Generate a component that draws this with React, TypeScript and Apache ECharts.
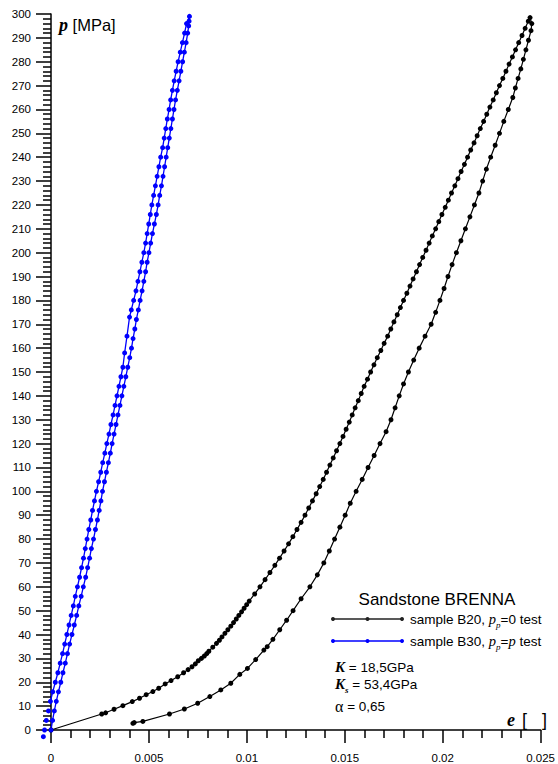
import React, { useEffect, useRef } from "react";
import * as echarts from "echarts";

// Volumetric strain e [-] vs pressure p [MPa]
const b20Loading: [number, number][] = [
  [0, 0], [0.00259, 6.7], [0.00279, 7.2], [0.00322, 8.7], [0.00367, 10.2], [0.00415, 11.9],
  [0.00452, 13.3], [0.00486, 14.8], [0.0052, 16.1], [0.0055, 17.5], [0.00583, 19.3],
  [0.00613, 20.7], [0.00647, 22.3], [0.00677, 24], [0.007, 25.3], [0.0072, 26.5],
  [0.00737, 27.7], [0.00752, 29], [0.00768, 30], [0.00783, 31], [0.00795, 32], [0.00806, 33],
  [0.00826, 34.7], [0.00845, 36.3], [0.0086, 37.6], [0.00873, 39], [0.00888, 40.5],
  [0.00903, 42], [0.00918, 43.5], [0.00932, 45], [0.00946, 46.5], [0.00959, 48],
  [0.00973, 49.5], [0.00986, 51], [0.00999, 52.5], [0.01012, 54], [0.0104, 57],
  [0.01067, 60], [0.01093, 63], [0.01118, 66], [0.01143, 69], [0.01167, 72], [0.0119, 75],
  [0.01213, 78], [0.01235, 81], [0.01256, 84], [0.01277, 87], [0.01297, 90], [0.01316, 93],
  [0.01335, 96], [0.01354, 99], [0.01372, 102], [0.0139, 105], [0.01407, 108],
  [0.01424, 111], [0.01441, 114], [0.01458, 117], [0.01475, 120], [0.01491, 123],
  [0.01507, 126], [0.01523, 129], [0.01538, 132], [0.01553, 135], [0.01569, 138],
  [0.01584, 141], [0.01599, 144], [0.01616, 147], [0.01632, 150], [0.01649, 153],
  [0.01666, 156], [0.01684, 159], [0.01701, 162], [0.01719, 165], [0.01735, 168],
  [0.01751, 171], [0.01768, 174], [0.01784, 177], [0.018, 180], [0.01817, 183],
  [0.01833, 186], [0.01849, 189], [0.01866, 192], [0.01882, 195], [0.01898, 198],
  [0.01915, 201], [0.01931, 204], [0.01947, 207], [0.01964, 210], [0.0198, 213],
  [0.01996, 216], [0.02013, 219], [0.02029, 222], [0.02045, 225], [0.02062, 228],
  [0.02078, 231], [0.02094, 234], [0.02111, 237], [0.02127, 240], [0.02143, 243],
  [0.0216, 246], [0.02176, 249], [0.02192, 252], [0.02209, 255], [0.02225, 258],
  [0.02241, 261], [0.02258, 264], [0.02274, 267], [0.0229, 270], [0.02307, 273],
  [0.02323, 276], [0.02339, 279], [0.02356, 282], [0.02372, 285], [0.02388, 288],
  [0.02405, 291], [0.02421, 294], [0.02437, 297], [0.02446, 298.5],
];

const b20Unloading: [number, number][] = [
  [0.02455, 296], [0.02451, 293], [0.02438, 289], [0.02425, 285], [0.02412, 281],
  [0.02399, 277], [0.02385, 273], [0.02371, 269], [0.02358, 265], [0.02335, 260],
  [0.02312, 255], [0.0229, 250], [0.02268, 245], [0.02245, 240], [0.02223, 235],
  [0.02204, 230], [0.02185, 225], [0.02162, 220], [0.02139, 215], [0.02116, 210],
  [0.02093, 205], [0.0207, 200], [0.02048, 195], [0.02027, 190], [0.02007, 185],
  [0.01986, 180], [0.01964, 175], [0.01941, 170], [0.0191, 165], [0.0188, 160],
  [0.01852, 155], [0.01825, 150], [0.018, 145], [0.01778, 140], [0.01757, 135],
  [0.01736, 130], [0.01711, 125], [0.0168, 120], [0.0165, 115], [0.01619, 110],
  [0.01589, 105], [0.01558, 100], [0.01528, 95], [0.01502, 90], [0.01475, 85],
  [0.01448, 80], [0.01421, 75], [0.01393, 70], [0.0136, 65], [0.01322, 60],
  [0.01277, 55], [0.01236, 50], [0.01203, 46], [0.01168, 42], [0.01133, 38],
  [0.01104, 34.9], [0.01087, 33.5], [0.01045, 29.5], [0.01003, 25.8], [0.00964, 23.3],
  [0.00918, 19.6], [0.00867, 16.8], [0.00811, 14], [0.00749, 11.2], [0.00681, 8.8],
  [0.00605, 6.7], [0.00469, 3.6], [0.00425, 3.1], [0.00418, 2.8],
];

const b30Loading: [number, number][] = [
  [0, 0], [0.00008, 4], [0.00017, 8], [0.00027, 12], [0.00038, 16], [0.0005, 20],
  [0.00061, 24], [0.00073, 28], [0.00084, 32], [0.00095, 36], [0.00107, 40],
  [0.00119, 44], [0.00131, 48], [0.00142, 52], [0.00154, 56], [0.00165, 60],
  [0.00177, 64], [0.00187, 68], [0.00197, 72], [0.00206, 76], [0.00217, 80],
  [0.00227, 84], [0.00237, 88], [0.00246, 92], [0.00255, 96], [0.00263, 100],
  [0.00273, 104], [0.00283, 108], [0.00293, 112], [0.00303, 116], [0.00312, 120],
  [0.00322, 124], [0.00332, 128], [0.00342, 132], [0.00352, 136], [0.00362, 140],
  [0.00372, 144], [0.00382, 148], [0.00392, 152], [0.00402, 156], [0.00411, 160],
  [0.00419, 164], [0.00428, 168], [0.00436, 172], [0.00446, 176], [0.00455, 180],
  [0.00465, 184], [0.00474, 188], [0.00483, 192], [0.00491, 196], [0.005, 200],
  [0.00509, 204], [0.00518, 208], [0.00528, 212], [0.00538, 216], [0.00547, 220],
  [0.00555, 224], [0.00564, 228], [0.00572, 232], [0.0058, 236], [0.00588, 240],
  [0.00596, 244], [0.00604, 248], [0.00612, 252], [0.0062, 256], [0.00628, 260],
  [0.00636, 264], [0.00645, 268], [0.00654, 272], [0.00663, 276], [0.00672, 280],
  [0.00681, 284], [0.0069, 288], [0.00698, 292], [0.00703, 295], [0.00705, 297],
  [0.00707, 299],
];

const b30Unloading: [number, number][] = [
  [0.00692, 296], [0.00682, 292], [0.00671, 288], [0.0066, 284], [0.00649, 280],
  [0.00639, 276], [0.00629, 272], [0.0062, 268], [0.00611, 264], [0.00603, 260],
  [0.00594, 256], [0.00586, 252], [0.00578, 248], [0.0057, 244], [0.0056, 240],
  [0.00551, 236], [0.00542, 232], [0.00533, 228], [0.00524, 224], [0.00515, 220],
  [0.00507, 216], [0.00499, 212], [0.00491, 208], [0.00483, 204], [0.00474, 200],
  [0.00464, 196], [0.00454, 192], [0.00444, 188], [0.00434, 184], [0.00422, 180],
  [0.0041, 176], [0.00401, 173], [0.00388, 165], [0.00376, 158], [0.00367, 152],
  [0.00357, 148], [0.00347, 144], [0.00337, 140], [0.00327, 136], [0.00317, 132],
  [0.00306, 128], [0.00296, 124], [0.00285, 120], [0.00275, 116], [0.00264, 112],
  [0.00254, 108], [0.00243, 104], [0.00232, 100], [0.00222, 96], [0.00212, 92],
  [0.00203, 88], [0.00193, 84], [0.00184, 80], [0.00175, 76], [0.00166, 72],
  [0.00156, 68], [0.00146, 64], [0.00135, 60], [0.00124, 56], [0.00114, 52],
  [0.00103, 48], [0.00092, 44], [0.00081, 40], [0.0007, 36], [0.00059, 32],
  [0.00047, 28], [0.00035, 24], [0.00022, 20], [0.00009, 16], [-0.00003, 12],
  [-0.00013, 8], [-0.00024, 4], [-0.00033, 0], [-0.00039, -2.8],
];

const xRange = [0, 0.025];
const xStep = 0.005;
const yRange = [0, 300];
const yStep = 10;

const legendTitle = "Sandstone BRENNA";
const legendB20 = "sample B20, {i|p}{s|p}=0 test";
const legendB30 = "sample B30, {i|p}{s|p}={i|p} test";
const noteK = "{K|K} = 18,5GPa";
const noteKs = "{K|K}{s|s} = 53,4GPa";
const noteAlpha = "{a|α} = 0,65";

const SANS = "'Liberation Sans', Arial, Helvetica, sans-serif";
const SERIF = "'Liberation Serif', 'Times New Roman', serif";

export default function App() {
  const ref = useRef<HTMLDivElement>(null);

  useEffect(() => {
    if (!ref.current) return;
    const chart = echarts.init(ref.current, null, { renderer: "svg" });
    const axisLine = { color: "#000", width: 1.5 };
    const subRich = {
      i: { fontFamily: SERIF, fontStyle: "italic", fontSize: 14.5, lineHeight: 20, verticalAlign: "middle" },
      s: { fontFamily: SERIF, fontStyle: "italic", fontSize: 9, lineHeight: 20, verticalAlign: "bottom" },
    };
    const legendRow = (y: number, color: string, text: string) => [
      { type: "line", shape: { x1: 333, y1: y, x2: 402, y2: y }, style: { stroke: color, lineWidth: 1.5 } },
      { type: "circle", shape: { cx: 333, cy: y, r: 2 }, style: { fill: color } },
      { type: "circle", shape: { cx: 367.5, cy: y, r: 2 }, style: { fill: color } },
      { type: "circle", shape: { cx: 402, cy: y, r: 2 }, style: { fill: color } },
      {
        type: "text", x: 410, y,
        style: {
          text, fontFamily: SANS, fontSize: 13.5, lineHeight: 20, fill: "#000",
          verticalAlign: "middle", align: "left", rich: subRich,
        },
      },
    ];

    chart.setOption({
      animation: false,
      backgroundColor: "#fff",
      grid: { left: 51, right: 15, top: 14, bottom: 34, containLabel: false },
      xAxis: {
        type: "value",
        min: xRange[0], max: xRange[1], interval: xStep,
        axisLine: { show: true, onZero: false, lineStyle: axisLine },
        axisTick: { show: true, inside: false, length: 13, lineStyle: axisLine },
        minorTick: { show: true, splitNumber: 5, length: 8, lineStyle: axisLine },
        axisLabel: {
          margin: 22, fontSize: 11.5, color: "#000", fontFamily: SANS,
          formatter: (v: number) => String(Number(v.toFixed(3))),
        },
        splitLine: { show: false },
        minorSplitLine: { show: false },
      },
      yAxis: {
        type: "value",
        min: yRange[0], max: yRange[1], interval: yStep,
        axisLine: { show: true, onZero: false, lineStyle: axisLine },
        axisTick: { show: true, inside: false, length: 15, lineStyle: axisLine },
        minorTick: { show: true, splitNumber: 5, length: 8, lineStyle: axisLine },
        axisLabel: { margin: 20, fontSize: 11.5, color: "#000", fontFamily: SANS },
        splitLine: { show: false },
        minorSplitLine: { show: false },
      },
      series: [
        {
          name: "sample B20, pp=0 test",
          type: "line",
          data: [...b20Loading, ...b20Unloading],
          symbol: "circle", symbolSize: 5, showSymbol: true, showAllSymbol: true,
          lineStyle: { color: "#000", width: 1.2 },
          itemStyle: { color: "#000" },
          clip: false,
        },
        {
          name: "sample B30, pp=p test",
          type: "line",
          data: [...b30Loading, ...b30Unloading],
          symbol: "circle", symbolSize: 5, showSymbol: true, showAllSymbol: true,
          lineStyle: { color: "#0000ff", width: 1.3 },
          itemStyle: { color: "#0000ff" },
          clip: false,
        },
      ],
      graphic: [
        {
          type: "text", x: 59, y: 24.5,
          style: {
            text: "{p|p} [MPa]", fontFamily: SANS, fontSize: 16.5, fill: "#000", verticalAlign: "middle",
            rich: { p: { fontFamily: SERIF, fontStyle: "italic", fontWeight: "bold", fontSize: 18 } },
          },
        },
        {
          type: "text", x: 507, y: 720,
          style: { text: "e", fontFamily: SERIF, fontStyle: "italic", fontWeight: "bold", fontSize: 18, fill: "#000", verticalAlign: "middle" },
        },
        {
          type: "text", x: 522, y: 720,
          style: { text: "[   ]", fontFamily: SANS, fontSize: 18, fill: "#000", verticalAlign: "middle" },
        },
        {
          type: "text", x: 437, y: 599,
          style: { text: legendTitle, fontFamily: SANS, fontSize: 17, fill: "#000", align: "center", verticalAlign: "middle" },
        },
        ...legendRow(619, "#222", legendB20),
        ...legendRow(641, "#0000ff", legendB30),
        {
          type: "text", x: 335, y: 667,
          style: {
            text: noteK, fontFamily: SANS, fontSize: 13.5, lineHeight: 20, fill: "#000", verticalAlign: "middle",
            rich: { K: { fontFamily: SERIF, fontStyle: "italic", fontWeight: "bold", fontSize: 15, lineHeight: 20, verticalAlign: "middle" } },
          },
        },
        {
          type: "text", x: 335, y: 684,
          style: {
            text: noteKs, fontFamily: SANS, fontSize: 13.5, lineHeight: 20, fill: "#000", verticalAlign: "middle",
            rich: {
              K: { fontFamily: SERIF, fontStyle: "italic", fontWeight: "bold", fontSize: 15, lineHeight: 20, verticalAlign: "middle" },
              s: { fontFamily: SERIF, fontStyle: "italic", fontWeight: "bold", fontSize: 9, lineHeight: 20, verticalAlign: "bottom" },
            },
          },
        },
        {
          type: "text", x: 335, y: 706,
          style: {
            text: noteAlpha, fontFamily: SANS, fontSize: 13.5, lineHeight: 20, fill: "#000", verticalAlign: "middle",
            rich: { a: { fontFamily: SERIF, fontSize: 16, lineHeight: 20, verticalAlign: "middle" } },
          },
        },
      ],
    });
    return () => chart.dispose();
  }, []);

  return (
    <div
      ref={ref}
      style={{ position: "fixed", left: 0, top: 0, width: 558, height: 764, background: "#fff" }}
    />
  );
}
